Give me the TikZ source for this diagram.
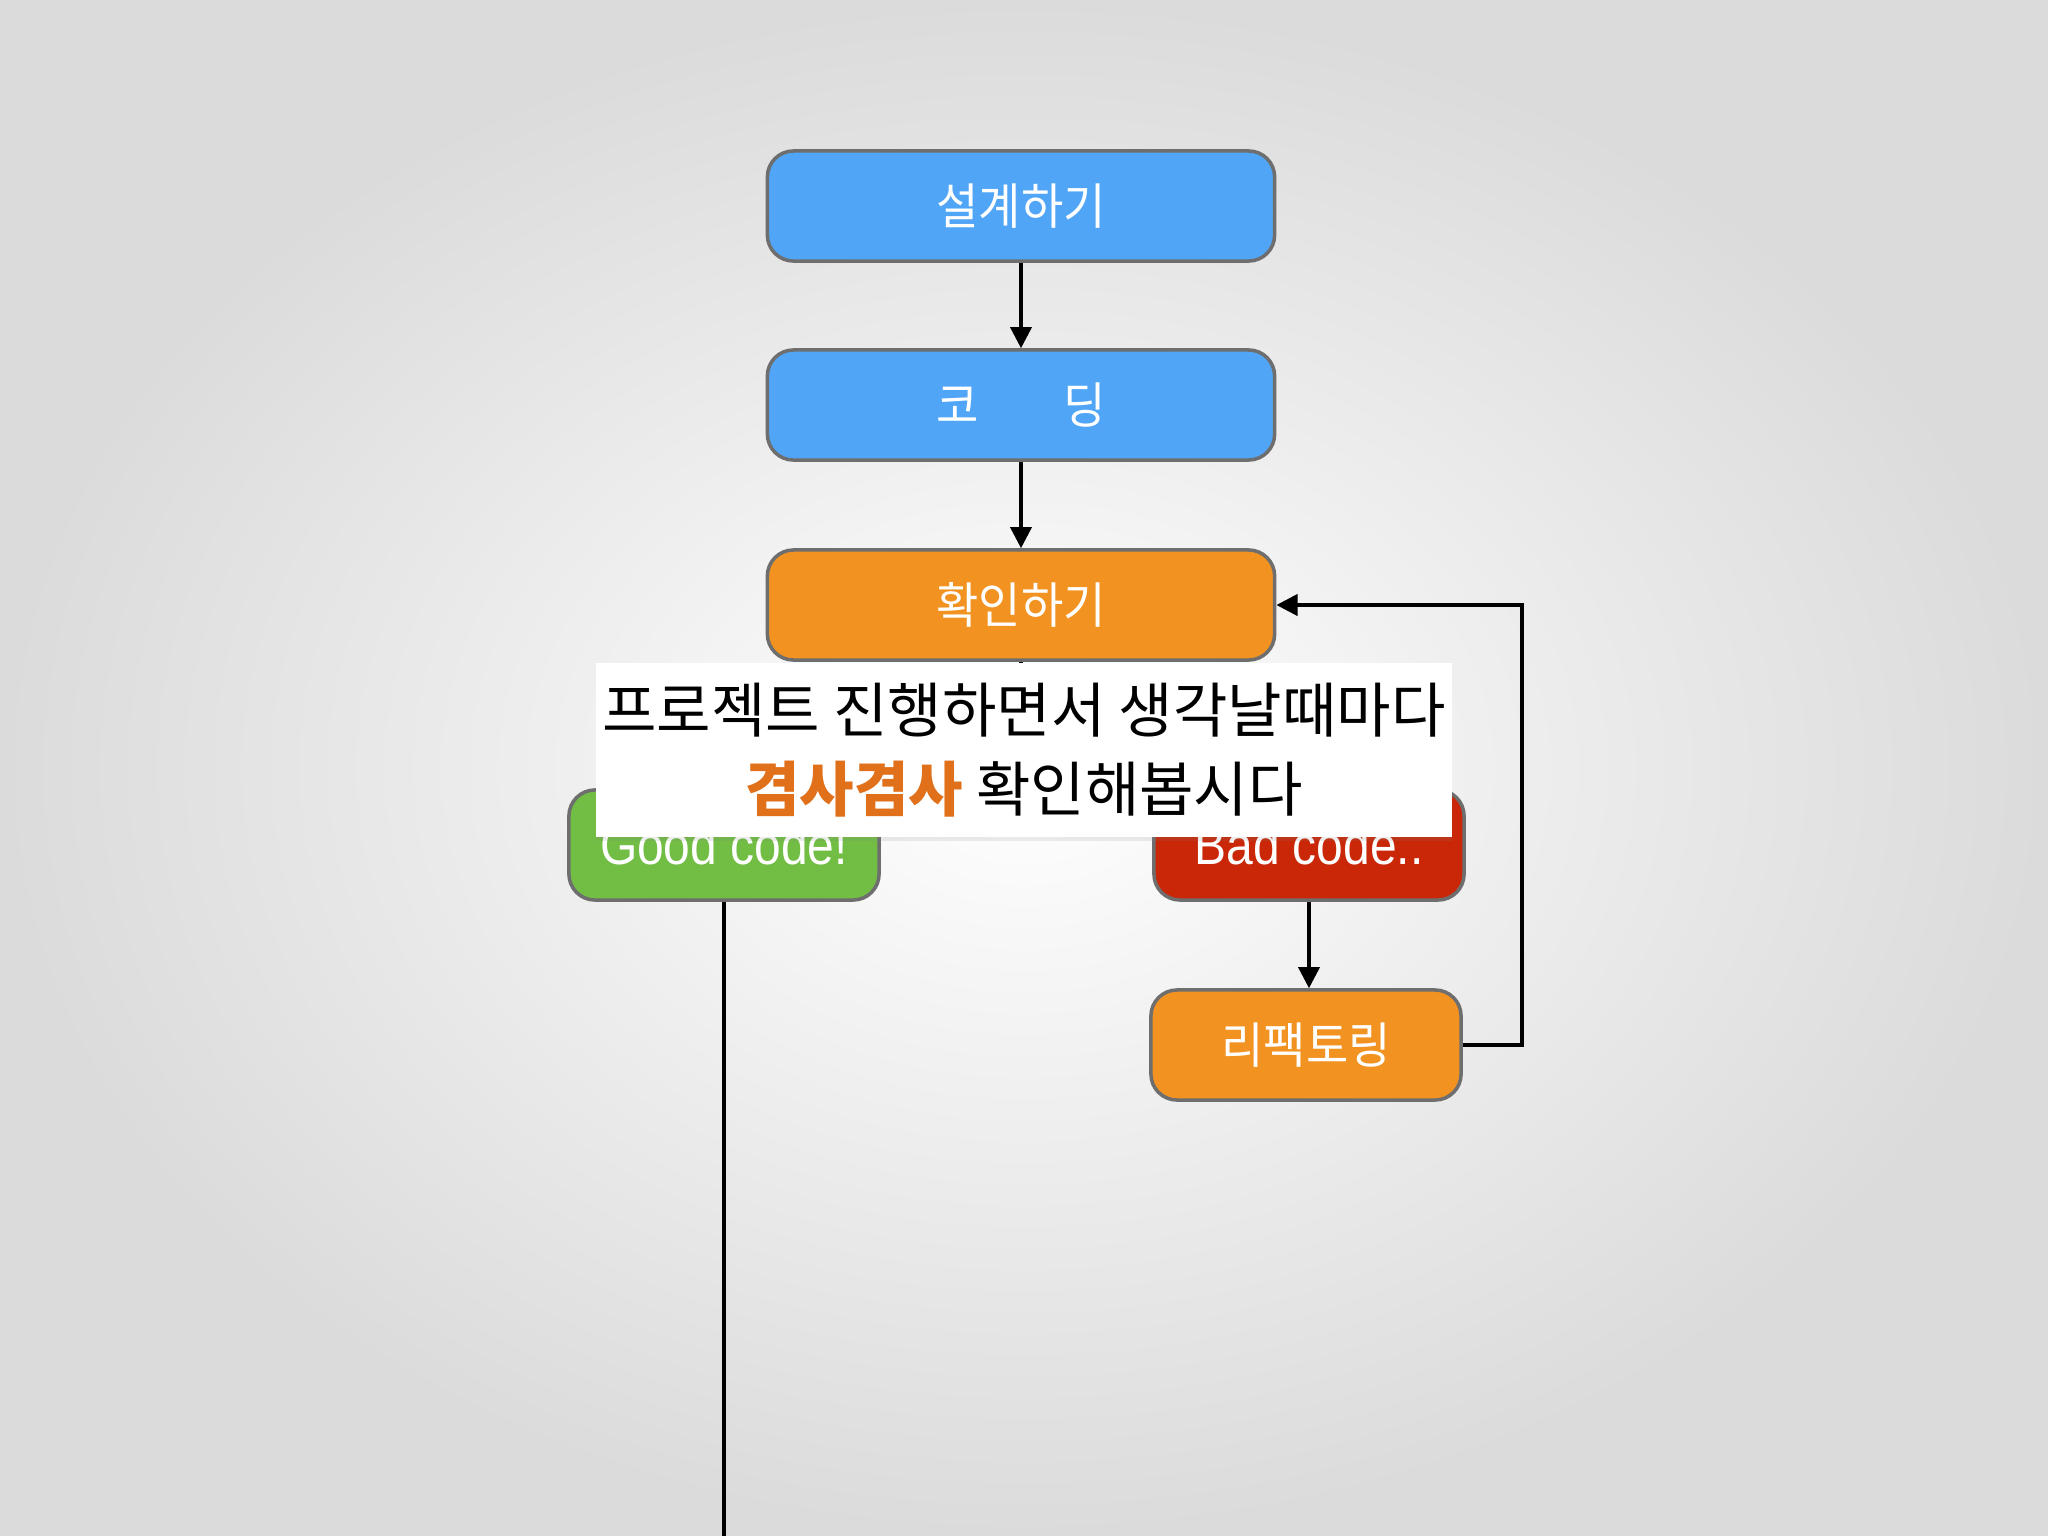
\documentclass[tikz,border=0pt]{standalone}
\usepackage{fontspec}
\setmainfont[FakeStretch=0.935]{Noto Sans CJK KR}
\newfontfamily\ovf[FakeStretch=0.99]{Noto Sans CJK KR}
\newfontfamily\latf[FakeStretch=0.88]{Liberation Sans}
\usetikzlibrary{arrows.meta,shadows,calc}
\definecolor{bluef}{HTML}{50A5F6}
\definecolor{orangef}{HTML}{F29220}
\definecolor{greenf}{HTML}{72BE44}
\definecolor{redf}{HTML}{C92707}
\definecolor{edgeg}{HTML}{6E6E6E}
\definecolor{hl}{HTML}{E0701A}
\definecolor{bgout}{HTML}{DBDBDC}
\begin{document}
\begin{tikzpicture}[x=0.01cm,y=-0.01cm,
  box/.style={draw=edgeg, line width=1pt, rounded corners=0.26cm, minimum height=1.10cm,
    text=white, font=\fontsize{14}{16}\selectfont, inner sep=0pt},
  wide/.style={minimum width=5.07cm},
  narrow/.style={minimum width=3.10cm},
  latlab/.style={font=\latf\fontsize{15.5}{17}\selectfont},
  conn/.style={line width=1pt, draw=black},
  arr/.style={conn, -{Triangle[width=6pt,length=6pt]}}]
\useasboundingbox (0,0) rectangle (2048,1536);
\shade[inner color=white, outer color=bgout] (0,0) rectangle (2048,1536);

\node[box,wide,fill=bluef] (b1) at (1021,206) {설계하기};
\node[box,wide,fill=bluef] (b2) at (1021,405) {코\hspace{24pt}딩};
\node[box,wide,fill=orangef] (b3) at (1021,605) {확인하기};
\node[box,narrow,fill=greenf,latlab] (good) at (724,845) {Good code!};
\node[box,narrow,fill=redf,latlab] (bad) at (1309,845) {Bad code..};
\node[box,narrow,fill=orangef] (ref) at (1306,1045) {리팩토링};

\coordinate (split) at (1021,720);
\coordinate (fb) at (1522,1045);
\coordinate (gend) at (724,1536);

\draw[arr] (b1) -- (b2);
\draw[arr] (b2) -- (b3);
\draw[conn] (b3.south) -- (split);
\draw[arr] (bad.south) -- (bad.south |- ref.north);
\draw[arr] (ref.east) -- (fb) |- (b3.east);
\draw[conn] (good.south) -- (gend);

\node[fill=white, drop shadow={opacity=0.15, shadow xshift=0pt, shadow yshift=-1.2pt},
  minimum width=8.56cm, minimum height=1.73cm, inner sep=0pt, align=center,
  font=\ovf\fontsize{17}{22.3}\selectfont] (ov) at (1024,750)
  {프로젝트 진행하면서 생각날때마다\\{\bfseries\color{hl}겸사겸사} 확인해봅시다};
\end{tikzpicture}
\end{document}
